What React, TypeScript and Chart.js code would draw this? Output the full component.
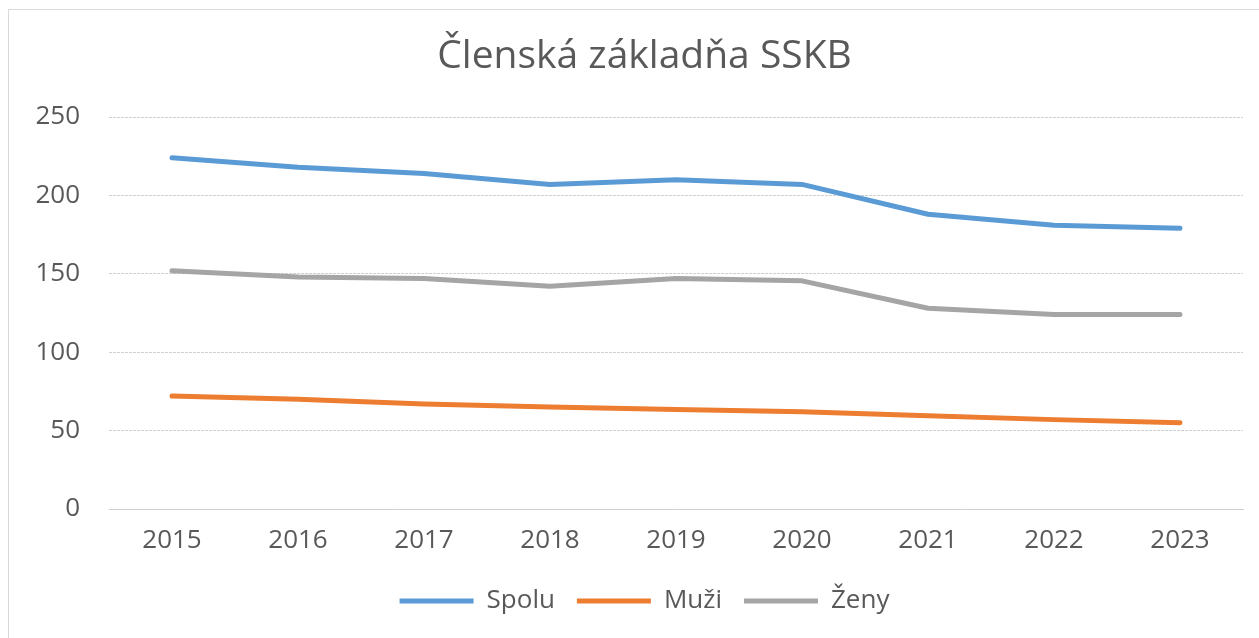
import React, { useEffect, useRef } from "react";
import { Chart, registerables } from "chart.js";

Chart.register(...registerables);

const title = "Členská základňa SSKB";
const years = ["2015", "2016", "2017", "2018", "2019", "2020", "2021", "2022", "2023"];
const spolu = [224, 218, 214, 207, 210, 207, 188, 181, 179];
const muzi = [72, 70, 67, 65, 63.5, 62, 59.5, 57, 55];
const zeny = [152, 148, 147, 142, 147, 145.5, 128, 124, 124];
const yTicks = [0, 50, 100, 150, 200, 250];

const FONT = "'Open Sans', 'Noto Sans', sans-serif";
const TEXT = "#595959";

export default function App() {
  const ref = useRef<HTMLCanvasElement>(null);

  useEffect(() => {
    if (!ref.current) return;
    const mk = (label: string, data: number[], color: string) => ({
      label,
      data,
      borderColor: color,
      backgroundColor: color,
      borderWidth: 5,
      borderCapStyle: "round" as const,
      borderJoinStyle: "round" as const,
      pointRadius: 0,
      pointHoverRadius: 0,
      pointStyle: "line" as const,
      tension: 0,
      fill: false,
      yAxisID: "y",
    });
    const chart = new Chart(ref.current, {
      type: "line",
      data: {
        labels: years,
        datasets: [
          mk("Spolu", spolu, "#5B9BD5"),
          mk("Muži", muzi, "#ED7D31"),
          mk("Ženy", zeny, "#A5A5A5"),
        ],
      },
      options: {
        responsive: false,
        animation: false,
        layout: { padding: { left: 30, right: 0, top: 0, bottom: 14 } },
        plugins: {
          title: {
            display: true,
            text: title,
            color: TEXT,
            font: { family: FONT, size: 39, weight: "normal" as any },
            padding: { top: 33, bottom: 37.2 },
          },
          legend: {
            position: "bottom",
            labels: {
              usePointStyle: true,
              pointStyle: "line",
              pointStyleWidth: 74,
              color: TEXT,
              font: { family: FONT, size: 26 },
              padding: 22,
            },
          },
          tooltip: { enabled: false },
        },
        scales: {
          x: {
            type: "category",
            offset: true,
            grid: { display: false, drawTicks: false },
            border: { display: true, color: "#d0d0d0", width: 1 },
            ticks: { color: TEXT, font: { family: FONT, size: 26 }, padding: 16, maxRotation: 0 },
            afterFit: (s: any) => {
              s.height = 57;
            },
          },
          y: {
            min: 0,
            max: 250,
            afterBuildTicks: (s: any) => {
              s.ticks = yTicks.map((v) => ({ value: v }));
            },
            grid: { color: "#cfcfcf", lineWidth: 1, drawTicks: false },
            border: { display: false, dash: [3, 1] },
            ticks: { color: TEXT, font: { family: FONT, size: 26 }, padding: 29 },
            afterFit: (s: any) => {
              s.width = 79;
            },
          },
          yRight: {
            type: "linear",
            position: "right",
            display: true,
            min: 0,
            max: 250,
            grid: { display: false, drawTicks: false },
            border: { display: false },
            ticks: { display: false },
            afterFit: (s: any) => {
              s.width = 16;
            },
          },
        },
      },
    });
    return () => chart.destroy();
  }, []);

  return (
    <div
      style={{
        position: "fixed",
        left: 0,
        top: 0,
        width: 1259,
        height: 638,
        background: "#fff",
        overflow: "hidden",
      }}
    >
      <div
        style={{
          position: "absolute",
          left: 8,
          top: 9,
          width: 1300,
          height: 700,
          border: "1px solid #d9d9d9",
        }}
      />
      <canvas
        ref={ref}
        width={1259}
        height={638}
        style={{ position: "absolute", left: 0, top: 0, width: 1259, height: 638 }}
      />
    </div>
  );
}
